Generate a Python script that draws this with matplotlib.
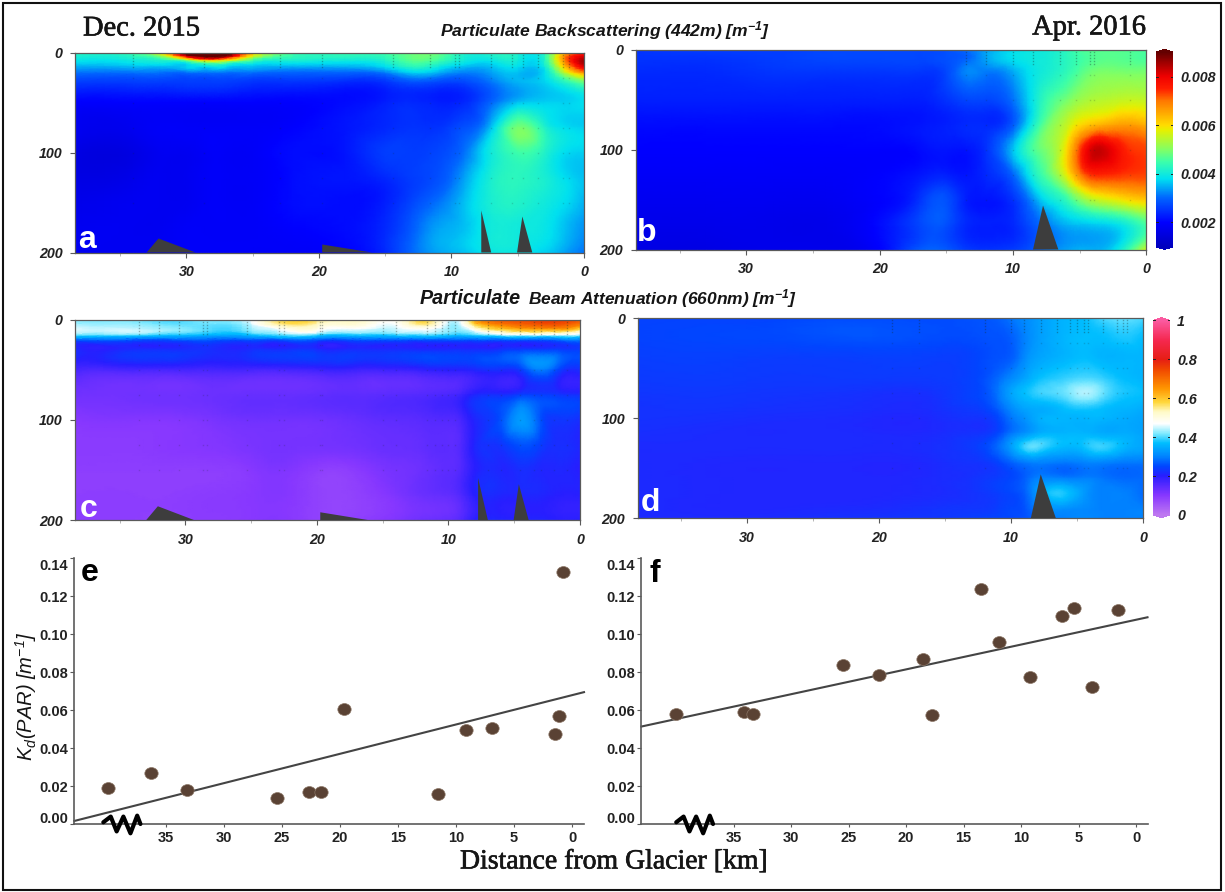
import numpy as np
import matplotlib
matplotlib.use("Agg")
import matplotlib.pyplot as plt
import matplotlib.patheffects as pe
from matplotlib.colors import LinearSegmentedColormap, Normalize
from matplotlib.cm import ScalarMappable
from matplotlib.patches import Rectangle
from matplotlib.path import Path
from matplotlib.transforms import Affine2D, ScaledTranslation
from matplotlib.tri import Triangulation, UniformTriRefiner

plt.rcParams['font.family'] = ['Liberation Sans', 'DejaVu Sans']
plt.rcParams['mathtext.default'] = 'regular'

# ---------- section data ----------
a_km = [38.4, 34, 32, 30, 28.5, 27, 25, 22, 18, 15, 13, 11, 9, 7, 5, 3, 1.5, 0]
a_depth = [0, 4, 8, 14, 20, 30, 50, 75, 100, 125, 150, 175, 200]
a_vals = [
    [4.3, 4.5, 6.0, 9.2, 9.8, 9.6, 6.5, 4.5, 4.4, 4.5, 4.8, 4.8, 4.2, 4.2, 4.1, 4.3, 6.4, 7.4],
    [4.1, 4.3, 5.0, 8.0, 9.2, 8.6, 5.6, 4.4, 4.3, 4.4, 4.8, 4.7, 4.1, 4.1, 4.1, 4.3, 6.8, 8.2],
    [3.9, 4.0, 4.2, 5.0, 6.3, 5.8, 4.5, 4.1, 4.0, 4.2, 4.7, 4.5, 4.0, 3.9, 4.0, 4.2, 6.8, 8.6],
    [3.5, 3.6, 3.6, 3.7, 3.8, 3.8, 3.6, 3.5, 3.5, 3.8, 4.3, 4.0, 3.6, 3.6, 3.8, 4.0, 6.2, 8.2],
    [3.1, 3.1, 3.1, 3.1, 3.1, 3.1, 3.1, 3.0, 3.0, 3.2, 3.7, 3.5, 3.2, 3.4, 3.6, 3.8, 5.4, 6.8],
    [2.6, 2.6, 2.6, 2.6, 2.6, 2.6, 2.5, 2.5, 2.4, 2.5, 2.8, 2.7, 2.7, 3.1, 3.5, 3.7, 4.2, 4.8],
    [2.0, 2.0, 2.0, 2.0, 2.0, 2.0, 2.0, 2.0, 2.1, 2.3, 2.4, 2.3, 2.4, 3.0, 3.6, 3.7, 3.7, 3.8],
    [1.8, 1.8, 1.9, 1.9, 1.9, 1.9, 1.9, 2.0, 2.2, 2.4, 2.5, 2.5, 2.8, 3.6, 4.9, 4.2, 3.8, 3.7],
    [1.6, 1.6, 1.8, 1.8, 1.9, 1.9, 1.9, 2.1, 2.2, 2.6, 2.6, 2.7, 3.1, 4.0, 4.5, 4.2, 3.8, 3.7],
    [1.6, 1.7, 1.8, 1.8, 1.9, 1.9, 1.9, 2.1, 2.2, 2.4, 2.6, 2.8, 3.4, 4.1, 4.3, 4.1, 3.8, 3.6],
    [1.7, 1.8, 1.8, 1.8, 1.9, 1.9, 1.9, 2.1, 2.1, 2.3, 2.7, 3.1, 3.6, 4.1, 4.2, 4.0, 3.8, 3.5],
    [1.8, 1.8, 1.8, 1.9, 1.9, 1.9, 1.9, 2.0, 2.1, 2.4, 2.9, 3.4, 3.6, 4.0, 4.0, 3.9, 3.6, 3.3],
    [1.8, 1.8, 1.8, 1.9, 1.9, 1.9, 1.9, 1.9, 2.0, 2.4, 3.0, 3.4, 3.6, 3.9, 3.9, 3.7, 3.4, 3.1],
]
b_km = [38.3, 33, 28, 24, 20, 17, 15, 13.5, 12, 10, 8, 6, 5, 3.5, 2, 0]
b_depth = [0, 10, 25, 50, 75, 100, 125, 150, 175, 200]
b_vals = [
    [2.5, 2.6, 2.6, 2.7, 2.7, 2.7, 2.8, 3.1, 3.4, 3.8, 4.0, 4.3, 4.6, 4.7, 4.7, 4.6],
    [2.5, 2.5, 2.6, 2.7, 2.7, 2.7, 2.8, 3.0, 3.4, 3.8, 4.0, 4.3, 4.5, 4.7, 4.7, 4.6],
    [2.4, 2.4, 2.5, 2.5, 2.5, 2.5, 2.7, 3.2, 3.1, 3.4, 4.0, 4.4, 4.7, 5.0, 5.0, 5.0],
    [2.3, 2.3, 2.3, 2.3, 2.3, 2.3, 2.5, 2.7, 2.7, 3.1, 4.2, 4.9, 5.2, 5.4, 5.5, 5.5],
    [2.1, 2.1, 2.1, 2.1, 2.1, 2.2, 2.3, 2.4, 2.4, 2.9, 4.5, 5.5, 6.0, 6.4, 6.6, 6.4],
    [2.0, 2.0, 2.0, 2.0, 2.0, 2.1, 2.2, 2.2, 2.5, 3.6, 4.8, 6.0, 7.3, 8.3, 7.7, 7.3],
    [1.9, 1.9, 1.9, 1.9, 2.0, 2.2, 2.3, 2.2, 2.4, 3.0, 4.4, 5.8, 6.9, 7.5, 7.4, 7.3],
    [1.8, 1.8, 1.8, 1.8, 2.0, 2.5, 2.8, 2.3, 2.2, 2.5, 3.6, 4.4, 5.0, 5.6, 5.9, 6.2],
    [1.7, 1.7, 1.7, 1.7, 2.1, 2.7, 2.8, 2.4, 2.3, 2.4, 3.0, 3.5, 3.6, 3.7, 3.9, 4.6],
    [1.6, 1.6, 1.7, 1.7, 2.0, 2.9, 2.9, 2.6, 2.5, 2.6, 3.0, 3.4, 3.5, 3.5, 4.0, 5.6],
]
c_km = [38.4, 34, 31, 28, 25, 23, 20, 17, 14, 12, 10, 9, 8, 6, 4.5, 3, 1.5, 0]
c_depth = [0, 5, 10, 15, 20, 30, 50, 75, 100, 125, 150, 175, 200]
c_vals = [
    [.42, .42, .40, .42, .47, .56, .57, .53, .50, .58, .46, .48, .62, .72, .74, .76, .76, .72],
    [.44, .43, .41, .41, .45, .54, .53, .51, .47, .55, .44, .46, .58, .68, .71, .73, .73, .68],
    [.46, .45, .43, .40, .43, .46, .49, .46, .45, .47, .43, .43, .48, .58, .62, .63, .63, .56],
    [.42, .41, .38, .36, .38, .41, .41, .39, .40, .41, .39, .38, .40, .44, .46, .46, .46, .44],
    [.27, .27, .27, .27, .27, .27, .27, .27, .27, .27, .27, .27, .27, .27, .27, .27, .29, .30],
    [.22, .22, .22, .22, .22, .22, .22, .22, .22, .22, .22, .22, .22, .23, .24, .24, .24, .24],
    [.17, .17, .17, .17, .17, .17, .18, .18, .18, .19, .20, .20, .21, .22, .24, .30, .24, .22],
    [.125, .125, .125, .13, .135, .135, .14, .145, .15, .155, .165, .18, .21, .22, .24, .24, .23, .22],
    [.10, .105, .105, .115, .125, .125, .125, .135, .145, .15, .155, .17, .21, .26, .33, .26, .23, .22],
    [.095, .095, .10, .105, .115, .12, .12, .125, .135, .14, .145, .16, .21, .23, .26, .24, .22, .21],
    [.09, .09, .09, .09, .10, .11, .09, .095, .12, .13, .145, .16, .20, .21, .22, .21, .21, .20],
    [.09, .09, .09, .095, .10, .105, .085, .085, .11, .13, .14, .16, .20, .21, .21, .21, .20, .20],
    [.09, .09, .09, .095, .10, .105, .085, .09, .11, .13, .14, .16, .20, .21, .21, .21, .20, .20],
]
d_km = [38.3, 30, 22, 16, 13, 11, 10, 9, 8, 6, 4.5, 3, 1.5, 0]
d_depth = [0, 20, 40, 60, 75, 90, 100, 115, 130, 145, 160, 175, 190, 200]
d_vals = [
    [.245, .245, .255, .255, .26, .27, .29, .31, .33, .36, .37, .40, .41, .40],
    [.245, .25, .26, .255, .255, .26, .27, .30, .33, .36, .37, .37, .38, .37],
    [.24, .24, .24, .24, .245, .26, .27, .31, .34, .36, .37, .36, .36, .36],
    [.235, .235, .235, .235, .245, .28, .31, .34, .37, .39, .40, .39, .37, .36],
    [.23, .23, .225, .225, .245, .29, .34, .37, .39, .41, .44, .41, .38, .37],
    [.225, .225, .22, .22, .235, .27, .31, .34, .35, .37, .38, .37, .36, .35],
    [.225, .22, .215, .215, .225, .25, .29, .32, .35, .36, .36, .36, .35, .34],
    [.22, .215, .215, .215, .225, .25, .29, .32, .35, .36, .36, .35, .35, .34],
    [.215, .215, .215, .22, .235, .28, .33, .39, .40, .36, .37, .39, .36, .34],
    [.215, .21, .21, .215, .225, .245, .27, .29, .30, .29, .30, .30, .29, .29],
    [.215, .21, .21, .215, .225, .24, .25, .27, .30, .30, .30, .29, .28, .28],
    [.215, .21, .21, .215, .225, .24, .25, .27, .33, .38, .33, .30, .30, .28],
    [.215, .21, .215, .225, .23, .24, .25, .26, .30, .32, .31, .30, .30, .30],
    [.215, .215, .225, .23, .24, .25, .25, .26, .28, .30, .31, .30, .30, .30],
]

# sills: (km, depth) outlines
sills_ac = [[(33.0, 200), (32.1, 186), (29.3, 200)], [(19.75, 200), (19.75, 192), (16.0, 200)],
            [(7.75, 200), (7.75, 158), (7.0, 200)], [(5.05, 200), (4.65, 164), (3.9, 200)]]
sills_bd = [[(8.5, 200), (7.75, 156), (6.6, 200)]]

# CTD stations seen as faint dots
a_st = [34, 28.7, 22.9, 19.75, 14.4, 11.6, 9.7, 9.4, 7, 5.4, 4.6, 3.5, 1.6, 1.1]
b_st = [13.5, 12, 10, 8.5, 6.5, 5.3, 4.2, 3.9, 1.2]
c_st = [33.5, 32, 30.5, 28.7, 28.4, 25.3, 22.9, 22.5, 19.8, 19.6, 15, 14, 11.6, 11, 10.5, 10, 9.5, 7, 6, 4.6, 3.5, 3, 2, 1]
d_st = [19, 17, 12, 10, 9, 7.7, 6.5, 5.5, 5, 4.5, 4.2, 3, 2, 1.5, 1.2]
shallow_z = [2, 5, 8, 11, 14]
deep_z = [25, 50, 75, 100, 125, 150]

# ---------- Kd(PAR) data ----------
e_km = [39.97, 36.3, 33.2, 25.4, 22.7, 21.6, 19.66, 11.55, 9.17, 6.92, 1.5, 1.12, 0.75]
e_kd = [.0190, .0269, .0180, .0136, .0169, .0167, .0604, .0157, .0493, .0507, .0475, .0569, .1326]
e_fit_km = [42.9, -1.03]
e_fit_kd = [.0016, .0694]
f_km = [40.0, 34.1, 33.3, 25.5, 22.4, 18.56, 17.77, 13.53, 11.96, 9.23, 6.49, 5.37, 3.86, 1.54]
f_kd = [.0577, .0591, .0581, .0839, .0786, .0871, .0575, .1239, .0956, .0772, .1094, .1136, .0720, .1124]
f_fit_km = [43.03, -0.99]
f_fit_kd = [.0513, .1088]
break_km = [3.2, 2.56, 2.05, 1.47, 0.86, 0.28, 0.0]
break_kd = [.0009, .0039, -.0039, .0039, -.0049, .0044, .0]

section_x_ticks = [30, 20, 10, 0]
section_x_minor = [35, 25, 15, 5]
section_y_ticks = [0, 100, 200]
kd_x_ticks = [35, 30, 25, 20, 15, 10, 5, 0]
kd_y_ticks = [0.00, 0.02, 0.04, 0.06, 0.08, 0.10, 0.12, 0.14]

# ---------- colour maps ----------
def rgb(*c):
    return tuple(v / 255 for v in c)

bbp_stops = [(.001, rgb(0, 0, 190)), (.002, rgb(0, 0, 255)), (.003, rgb(0, 100, 255)), (.0038, rgb(0, 225, 240)),
             (.0045, rgb(60, 255, 170)), (.005, rgb(130, 255, 100)), (.0058, rgb(230, 240, 0)), (.006, rgb(255, 220, 0)),
             (.007, rgb(255, 120, 0)), (.0075, rgb(255, 30, 0)), (.008, rgb(240, 0, 0)), (.0085, rgb(170, 0, 0)), (.009, rgb(100, 0, 0))]
cp_stops = [(0, rgb(190, 120, 240)), (.1, rgb(135, 55, 255)), (.2, rgb(40, 30, 255)), (.25, rgb(0, 70, 255)),
            (.3, rgb(0, 130, 255)), (.37, rgb(0, 190, 255)), (.42, rgb(130, 235, 255)), (.47, rgb(255, 255, 255)),
            (.53, rgb(255, 250, 200)), (.58, rgb(255, 215, 60)), (.65, rgb(255, 150, 0)), (.75, rgb(240, 70, 0)),
            (.8, rgb(230, 30, 20)), (.9, rgb(245, 40, 80)), (1, rgb(250, 90, 160))]

def make_cmap(name, stops):
    lo, hi = stops[0][0], stops[-1][0]
    cm = LinearSegmentedColormap.from_list(name, [((v - lo) / (hi - lo), c) for v, c in stops], N=512)
    return cm, Normalize(lo, hi)

bbp_cmap, bbp_norm = make_cmap('bbp', bbp_stops)
cp_cmap, cp_norm = make_cmap('cp', cp_stops)

# ---------- layout helpers ----------
W, H = 1225, 892
fig = plt.figure(figsize=(W / 100, H / 100), dpi=100, facecolor='white')

def axpx(l, t, r, b):
    return fig.add_axes([l / W, 1 - b / H, (r - l) / W, (b - t) / H])

def label(x, y, s, **kw):
    kw.setdefault('ha', 'left')
    kw.setdefault('va', 'center')
    return fig.text(x / W, 1 - y / H, s, **kw)

SPINE = '#5a5a5a'
TICK_FONT = dict(fontweight='bold', fontstyle='italic', fontsize=10.3, color='#222222')

def section(box, km, depth, vals, scale, cmap, norm, sills, stations, xmax):
    ax = axpx(*box)
    X, Z = np.meshgrid(km, depth)
    tri = Triangulation(X.ravel(), Z.ravel())
    refiner = UniformTriRefiner(tri)
    fine, field = refiner.refine_field(np.asarray(vals, float).ravel() * scale, subdiv=3)
    ax.tripcolor(fine, field, shading='gouraud', cmap=cmap, norm=norm, rasterized=True)
    for st in stations:
        ax.plot([st] * len(shallow_z), shallow_z, ls='', marker='s', ms=1.0, mew=0, color='#1a2a2a', alpha=.35)
        ax.plot([st] * len(deep_z), deep_z, ls='', marker='s', ms=1.0, mew=0, color='#1a2a2a', alpha=.18)
    for s in sills:
        ax.fill([p[0] for p in s], [p[1] for p in s], color='#3d3d3d', lw=0, zorder=4)
    ax.set_xlim(xmax, 0)
    ax.set_ylim(200, 0)
    ax.set_xticks(section_x_ticks)
    ax.set_xticks(section_x_minor, minor=True)
    ax.set_yticks(section_y_ticks)
    ax.tick_params(axis='both', which='major', length=3.5, width=.8, color=SPINE, pad=5.5)
    ax.tick_params(axis='x', which='minor', length=2, width=.5, color='#999999')
    ax.set_xticklabels([str(v) for v in section_x_ticks], **TICK_FONT)
    ax.set_yticklabels([str(v) for v in section_y_ticks], **TICK_FONT)
    for sp in ax.spines.values():
        sp.set_color(SPINE)
        sp.set_linewidth(.9)
    return ax

section((75, 52.5, 584, 252.5), a_km, a_depth, a_vals, 1e-3, bbp_cmap, bbp_norm, sills_ac, a_st, 38.4)
section((635.5, 49.5, 1146.4, 249.5), b_km, b_depth, b_vals, 1e-3, bbp_cmap, bbp_norm, sills_bd, b_st, 38.3)
section((75, 319.7, 580, 520.3), c_km, c_depth, c_vals, 1, cp_cmap, cp_norm, sills_ac, c_st, 38.4)
section((637.5, 318.3, 1143, 518.3), d_km, d_depth, d_vals, 1, cp_cmap, cp_norm, sills_bd, d_st, 38.3)

# ---------- colour bars ----------
def cbar(box, cmap, norm, ticks, labels):
    cax = axpx(*box)
    cb = fig.colorbar(ScalarMappable(norm=norm, cmap=cmap), cax=cax, extend='both', extendfrac=.014, ticks=ticks)
    cb.outline.set_visible(False)
    cb.set_ticklabels(labels, **TICK_FONT)
    cax.tick_params(length=0, pad=5)
    for t in ticks:
        cax.plot([0, .12], [t, t], color='#222222', lw=.7, transform=cax.get_yaxis_transform())
        cax.plot([.88, 1], [t, t], color='#222222', lw=.7, transform=cax.get_yaxis_transform())

bbp_ticks = [.002, .004, .006, .008]
cp_ticks = [0, .2, .4, .6, .8, 1]
cbar((1156, 49.5, 1173, 249.5), bbp_cmap, bbp_norm, bbp_ticks, ['0.002', '0.004', '0.006', '0.008'])
cbar((1153, 317.7, 1170, 517.7), cp_cmap, cp_norm, cp_ticks, ['0', '0.2', '0.4', '0.6', '0.8', '1'])

# ---------- Kd panels ----------
marker_path = Affine2D().scale(1.12, 1).transform_path(Path.unit_circle())

def kd(box, km, vals, fit_km, fit_vals, xlim, break_shift):
    ax = axpx(*box)
    ax.plot(fit_km, fit_vals, color='#444444', lw=1.5, zorder=2, clip_on=False)
    ax.scatter(km, vals, s=92, marker=marker_path, color='#5a4234', edgecolor='#8a7565', linewidth=.5, zorder=3)
    ax.plot(np.asarray(break_km) + 37.2 + break_shift, break_kd, color='black', lw=3,
            solid_joinstyle='round', solid_capstyle='round', clip_on=False, zorder=5)
    ax.set_xlim(*xlim)
    ax.set_ylim(0, 0.14)
    for s in ('top', 'right'):
        ax.spines[s].set_visible(False)
    for s in ('left', 'bottom'):
        ax.spines[s].set_color(SPINE)
        ax.spines[s].set_linewidth(1.2)
    ax.set_xticks(kd_x_ticks)
    ax.set_yticks(kd_y_ticks)
    ax.tick_params(axis='x', length=2, width=.8, color=SPINE, pad=3)
    ax.tick_params(axis='y', length=3, width=.8, color=SPINE, pad=1.5)
    ax.set_xticklabels([str(v) for v in kd_x_ticks], fontweight='bold', fontsize=10.5, color='#222222')
    ax.set_yticklabels([f'{v:.2f}' for v in kd_y_ticks], fontweight='bold', fontsize=10.5, color='#222222')
    labels = ax.get_yticklabels()
    # end labels sit inside the axis in the original
    labels[0].set_transform(labels[0].get_transform() + ScaledTranslation(0, 4.5 / 72, fig.dpi_scale_trans))
    labels[-1].set_transform(labels[-1].get_transform() + ScaledTranslation(0, -5 / 72, fig.dpi_scale_trans))
    return ax

kd((74.3, 558, 584, 824), e_km, e_kd, e_fit_km, e_fit_kd, (42.9, -1.03), 0)
kd((641.4, 558, 1147.5, 824), f_km, f_kd, f_fit_km, f_fit_kd, (43.03, -0.99), -0.4)

# ---------- text ----------
serif = ['Liberation Serif', 'DejaVu Serif']
heavy = [pe.withStroke(linewidth=.45, foreground='#151515')]
label(83, 29, 'Dec. 2015', family=serif, fontsize=20.5, color='#151515', path_effects=heavy)
label(1146, 28, 'Apr. 2016', family=serif, fontsize=20.5, color='#151515', ha='right', path_effects=heavy)
label(440, 31, 'Particulate Backscattering (442m) [m$^{-1}$]', fontweight='bold', fontstyle='italic', fontsize=12.6, color='#151515')
label(420, 299, 'Particulate', fontweight='bold', fontstyle='italic', fontsize=14.2, color='#151515')
label(528, 299, 'Beam Attenuation (660nm) [m$^{-1}$]', fontweight='bold', fontstyle='italic', fontsize=12.5, color='#151515')
label(614, 862, 'Distance from Glacier [km]', family=serif, fontsize=20, color='#151515', ha='center', path_effects=heavy)
label(26, 696, 'K$_{d}$(PAR) [m$^{-1}$]', fontstyle='italic', fontsize=14.5, color='#151515', rotation=90, ha='center')

for x, y, s, c, dy in [(87, 238, 'a', 'white', 2), (647, 232, 'b', 'white', 1), (89, 507, 'c', 'white', 2), (650, 502, 'd', 'white', 1),
                       (90, 571, 'e', 'black', 2), (655, 573, 'f', 'black', 1)]:
    label(x, y + dy, s, color=c, fontweight='bold', fontsize=23, ha='center')

# outer frame
fig.add_artist(Rectangle((3 / W, 1 - 890 / H), (1221 - 3) / W, (890 - 3) / H, transform=fig.transFigure,
                         fill=False, edgecolor='#111111', lw=1.5))

fig.savefig('out.png', dpi=100)
